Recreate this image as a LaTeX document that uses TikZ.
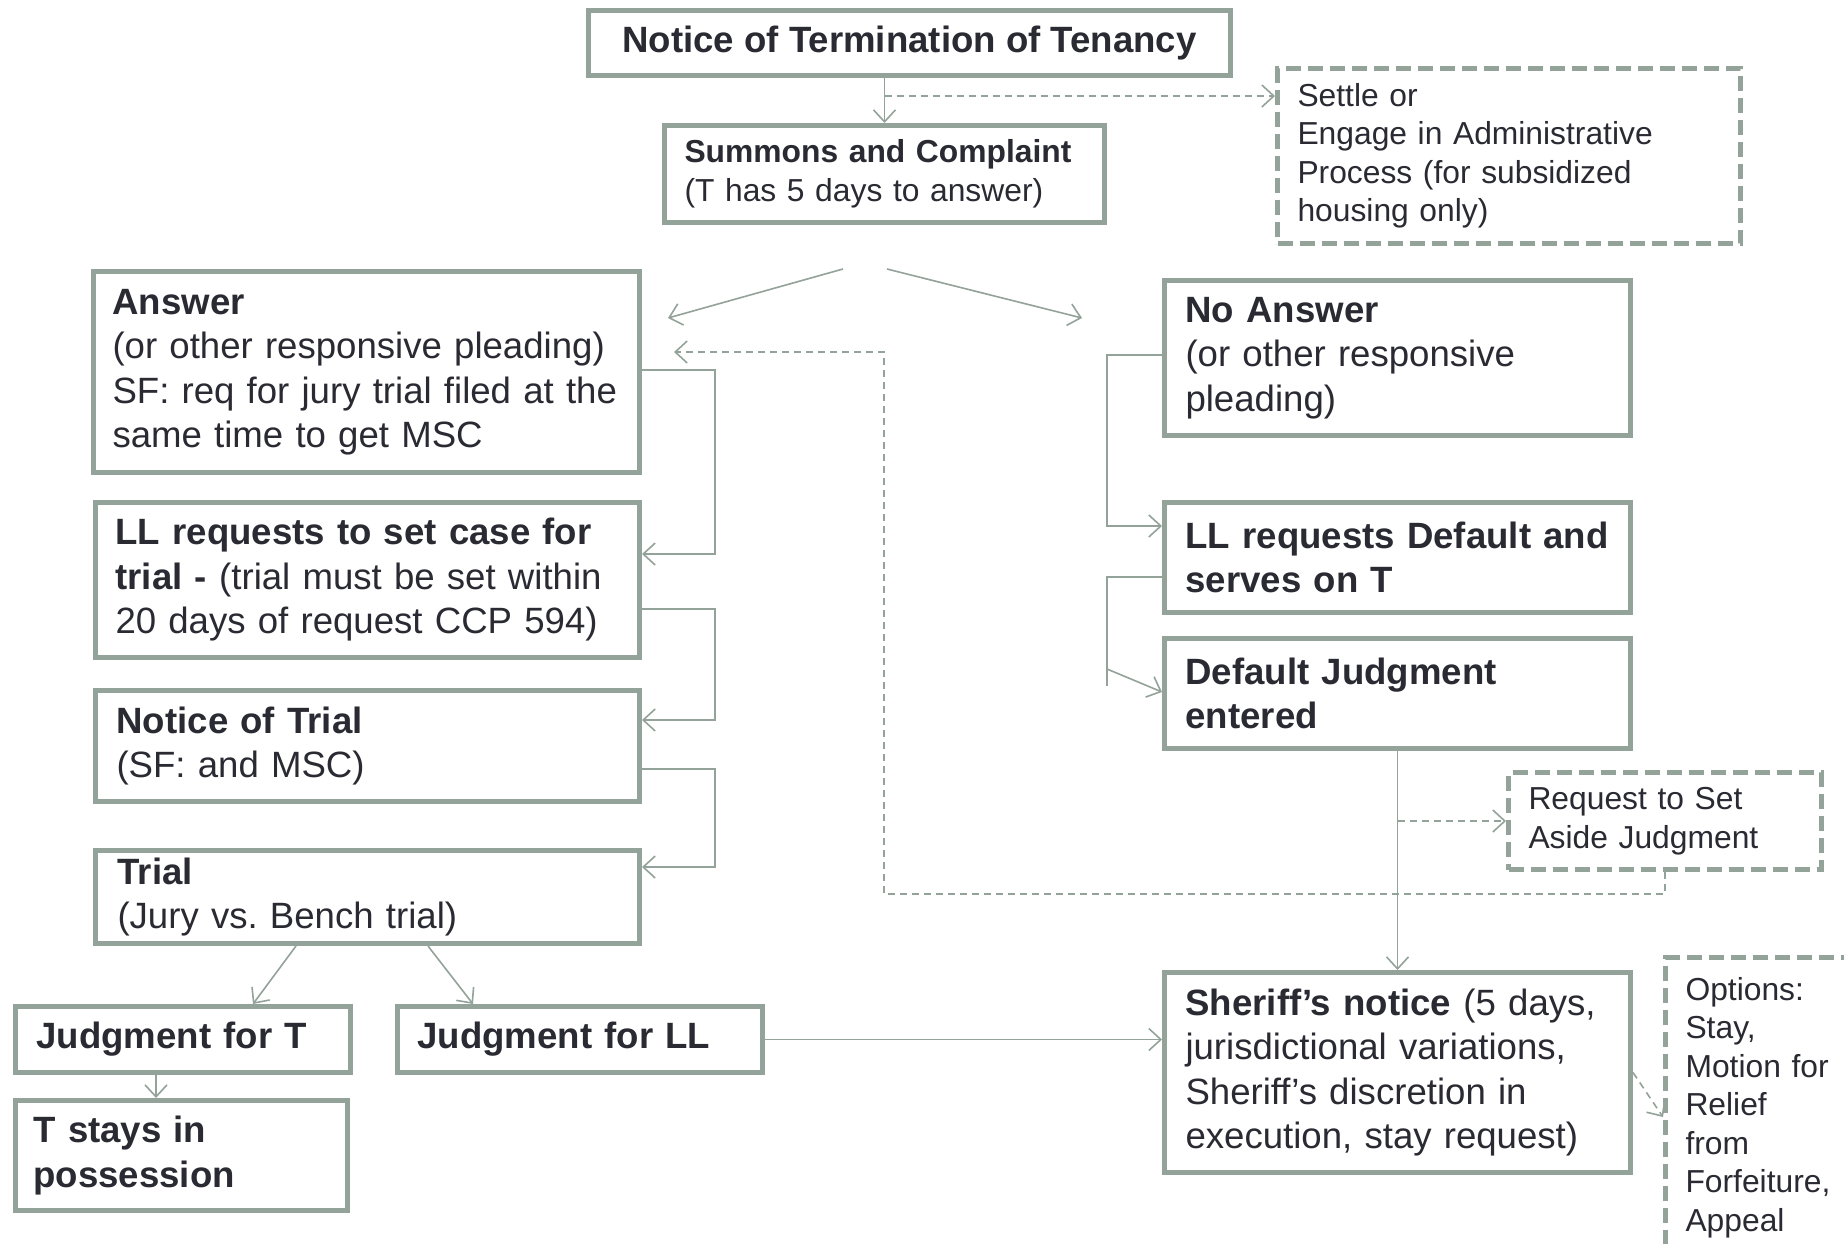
\documentclass[tikz,border=0pt]{standalone}
\usepackage{fontspec}
\setmainfont{Liberation Sans}
\usetikzlibrary{arrows.meta}
\definecolor{bc}{HTML}{94A399}
\definecolor{tc}{HTML}{2A2A33}
\frenchspacing
\begin{document}
\begin{tikzpicture}[x=1pt,y=-1pt,
  box/.style={draw=bc, line width=5pt, fill=white, text=tc, anchor=north west, align=left, inner ysep=0pt},
  dbox/.style={box, dash pattern=on 15pt off 7pt},
  fa/.style={font=\fontsize{36.6pt}{44.5pt}\selectfont\frenchspacing},
  fb/.style={font=\fontsize{31.8pt}{38.5pt}\selectfont\frenchspacing},
  ln/.style={draw=bc, line width=1.6pt},
  arr/.style={ln, -{Straight Barb[length=12pt,width=22pt]}},
  darr/.style={arr, dash pattern=on 7pt off 5pt},
]
\useasboundingbox (0,0) rectangle (1844,1243);
\fill[white] (0,0) rectangle (1844,1243);
\clip (0,0) rectangle (1844,1243);

% boxes
\node[box, fa, align=center, minimum width=642pt, minimum height=65pt, inner xsep=0pt] (notice) at (586,8)
  {\textbf{Notice of Termination of Tenancy}};
\node[box, fb, text width=400pt, inner xsep=20pt, minimum height=97pt] (sum) at (662,123)
  {\mbox{\textbf{Summons and Complaint}}\\\mbox{(T has 5 days to answer)}};
\node[dbox, fb, text width=423pt, inner xsep=20pt, minimum height=175pt] (settle) at (1275,66)
  {\mbox{Settle or}\\\mbox{Engage in Administrative}\\\mbox{Process (for subsidized}\\\mbox{housing only)}};

\node[box, fa, text width=508pt, inner xsep=19pt, minimum height=201pt] (ans) at (91,269)
  {\mbox{\textbf{Answer}}\\\mbox{(or other responsive pleading)}\\\mbox{SF: req for jury trial filed at the}\\\mbox{same time to get MSC}};
\node[box, fa, text width=504pt, inner xsep=20pt, minimum height=155pt] (llset) at (93,500)
  {\mbox{\textbf{LL requests to set case for}}\\\mbox{\textbf{trial -} (trial must be set within}\\\mbox{20 days of request CCP 594)}};
\node[box, fa, text width=502pt, inner xsep=21pt, minimum height=111pt] (not) at (93,688)
  {\mbox{\textbf{Notice of Trial}}\\\mbox{(SF: and MSC)}};
\node[box, fa, text width=500pt, inner xsep=22pt, minimum height=93pt] (trial) at (93,848)
  {\mbox{\textbf{Trial}}\\\mbox{(Jury vs. Bench trial)}};
\node[box, fa, text width=293pt, inner xsep=21pt, minimum height=66pt] (jt) at (13,1004)
  {\mbox{\textbf{Judgment for T}}};
\node[box, fa, text width=296pt, inner xsep=18pt, minimum height=110pt] (ts) at (13,1098)
  {\mbox{\textbf{T stays in}}\\\mbox{\textbf{possession}}};
\node[box, fa, text width=325pt, inner xsep=20pt, minimum height=66pt] (jll) at (395,1004)
  {\mbox{\textbf{Judgment for LL}}};

\node[box, fa, text width=424pt, inner xsep=21pt, minimum height=155pt] (noans) at (1162,278)
  {\mbox{\textbf{No Answer}}\\\mbox{(or other responsive}\\\mbox{pleading)}};
\node[box, fa, text width=424pt, inner xsep=21pt, minimum height=110pt] (lld) at (1162,500)
  {\mbox{\textbf{LL requests Default and}}\\\mbox{\textbf{serves on T}}};
\node[box, fa, text width=424pt, inner xsep=21pt, minimum height=110pt] (dj) at (1162,636)
  {\mbox{\textbf{Default Judgment}}\\\mbox{\textbf{entered}}};
\node[dbox, fb, text width=273pt, inner xsep=20pt, minimum height=97pt] (req) at (1506,770)
  {\mbox{Request to Set}\\\mbox{Aside Judgment}};
\node[box, fa, text width=424pt, inner xsep=21pt, minimum height=200pt] (sheriff) at (1162,970)
  {\mbox{\textbf{Sheriff’s notice} (5 days,}\\\mbox{jurisdictional variations,}\\\mbox{Sheriff’s discretion in}\\\mbox{execution, stay request)}};
\node[dbox, fb, text width=180pt, inner xsep=20pt, minimum height=300pt] (opt) at (1663,955)
  {\mbox{Options:}\\\mbox{Stay,}\\\mbox{Motion for}\\\mbox{Relief}\\\mbox{from}\\\mbox{Forfeiture,}\\\mbox{Appeal}};

% connectors
\draw[arr] (sum.north |- notice.south) -- (sum.north);
\draw[darr] (sum.north |- 0,96) -- (settle.west |- 0,96);

\coordinate (s1) at (843,269); \coordinate (s1e) at (668,318);
\coordinate (s2) at (887,269); \coordinate (s2e) at (1082,318);
\draw[arr] (s1) -- (s1e);
\draw[arr] (s2) -- (s2e);

\draw[arr] (ans.east |- 0,370) -- (715,370) -- (715,554) -- (llset.east |- 0,554);
\draw[arr] (llset.east |- 0,609) -- (715,609) -- (715,720) -- (not.east |- 0,720);
\draw[arr] (not.east |- 0,769) -- (715,769) -- (715,867) -- (trial.east |- 0,867);

\draw[arr] (trial.south -| 296,0) -- (jt.north -| 253,0);
\draw[arr] (trial.south -| 428,0) -- (jll.north -| 473,0);
\draw[arr] (jt.south -| 156,0) -- (ts.north -| 156,0);
\draw[arr] (jll.east) -- (sheriff.west |- jll.east);

\draw[arr] (noans.west |- 0,355) -- (1107,355) -- (1107,526) -- (lld.west |- 0,526);
\draw[ln] (lld.west |- 0,577) -- (1107,577) -- (1107,686);
\coordinate (dja) at (1107,669);
\draw[arr] (dja) -- (dj.west |- 0,692);

\draw[arr] (dj.south) -- (sheriff.north);
\draw[darr] (dj.south |- req.west) -- (req.west);
\coordinate (ansback) at (674,352);
\draw[darr] (req.south) -- (req.south |- 0,894) -- (884,894) -- (884,352) -- (ansback);
\draw[darr] (sheriff.east) -- (opt.west |- 0,1117);
\end{tikzpicture}
\end{document}
